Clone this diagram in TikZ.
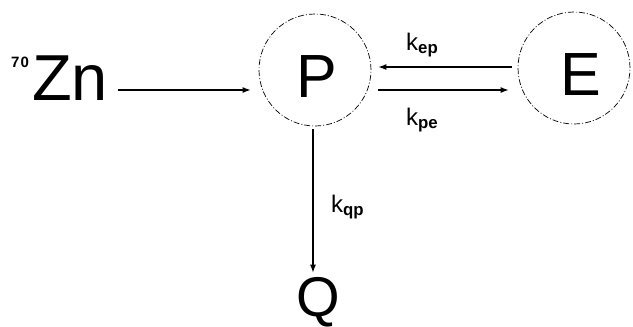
\documentclass[tikz,border=0pt]{standalone}
\usepackage{fontspec}
\setmainfont{Liberation Sans}
\usetikzlibrary{arrows.meta}
\begin{document}
\begin{tikzpicture}[x=1pt,y=-1pt,
  circ/.style={circle,draw,line width=0.7pt,minimum size=112pt,inner sep=0pt,
    dash pattern=on 6pt off 2pt on 1pt off 2pt},
  big/.style={inner sep=0pt,font=\fontsize{61}{61}\selectfont},
  lab/.style={inner sep=0pt,font=\fontsize{24}{24}\selectfont},
  arr/.style={line width=1.2pt,-{Latex[length=8pt,width=6pt]}}]
\useasboundingbox (0,0) rectangle (633,327);
\node[inner sep=0pt,anchor=base west,font=\fontsize{15}{15}\selectfont\bfseries] (sup) at (11,67) {7\hspace{1pt}0};
\node[inner sep=0pt,anchor=base west,font=\fontsize{65}{65}\selectfont] (zn) at (32,100) {Zn};
\node[circ] (P) at (315,70) {};
\node[circ] (E) at (574,68) {};
\node[big,anchor=base west] (Ptxt) at (296,97) {P};
\node[big,anchor=base west] (Etxt) at (560,95) {E};
\node[inner sep=0pt,anchor=base,font=\fontsize{56}{56}\selectfont] (Q) at (318,316) {Q};
\node[lab,anchor=base west] (kep) at (406,50) {k$_{\mathbf{ep}}$};
\node[lab,anchor=base west] (kpe) at (406,125) {k$_{\mathbf{pe}}$};
\node[lab,anchor=base west] (kqp) at (331,212) {k$_{\mathbf{qp}}$};
% Zn -> P
\draw[arr] ([xshift=10pt]zn.east |- 0,90) -- ([xshift=-8pt]P.west |- 0,90);
% E -> P (upper)
\draw[arr] (E.west |- 0,67) ++(-6,0) -- ([xshift=7pt]P.east |- 0,67);
\draw[line width=2.8pt] ([xshift=15pt]P.east |- 0,67) -- ([xshift=37pt]P.east |- 0,67);
% P -> E (lower)
\draw[arr] ([xshift=7pt]P.east |- 0,90) -- ([xshift=-9pt]E.west |- 0,90);
\draw[line width=2.8pt] ([xshift=43pt]P.east |- 0,90) -- ([xshift=-22pt]E.west |- 0,90);
% P -> Q
\draw[arr] (P.south) ++(-2,3) -- ([xshift=-5pt,yshift=4pt]Q.north);
\end{tikzpicture}
\end{document}
